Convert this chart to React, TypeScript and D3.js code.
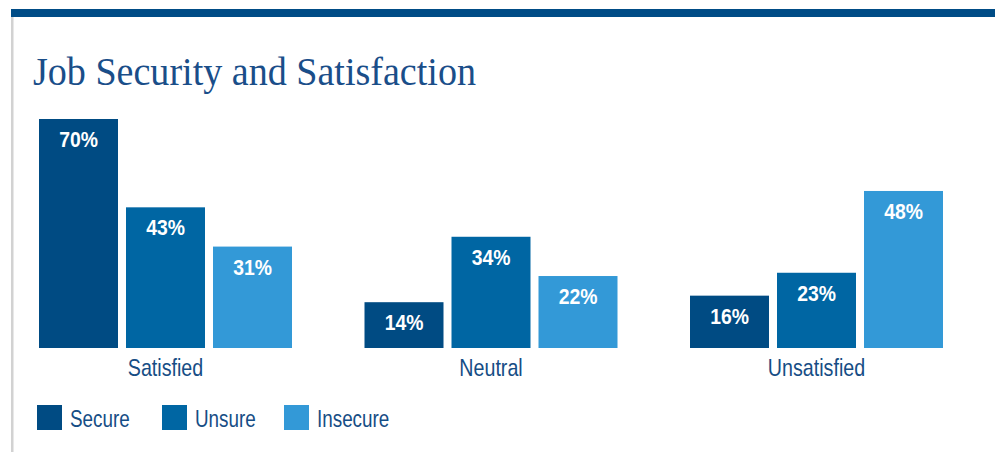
import React from "react";
import * as d3 from "d3";

const categories = ["Satisfied", "Neutral", "Unsatisfied"];
const seriesNames = ["Secure", "Unsure", "Insecure"];
const secureValues = [70, 14, 16];
const unsureValues = [43, 34, 23];
const insecureValues = [31, 22, 48];
const seriesColors = ["#004b83", "#0066a3", "#3399d7"];

const W = 995;
const H = 452;
const baseY = 348;
const labelFont = "'Liberation Sans', Arial, sans-serif";

function NarrowText(props: { x: number; y: number; anchor?: string; fill: string; size: number; bold?: boolean; sx?: number; children: React.ReactNode }) {
  return (
    <g transform={`translate(${props.x},${props.y}) scale(${props.sx || 0.82},1)`}>
      <text x={0} y={0} textAnchor={props.anchor || "start"} fill={props.fill} fontFamily={labelFont} fontSize={props.size} fontWeight={props.bold ? "bold" : "normal"}>
        {props.children}
      </text>
    </g>
  );
}

export default function App() {
  const values = [secureValues, unsureValues, insecureValues];
  const x0 = d3.scaleBand<string>().domain(categories).range([39, 943]).paddingInner(72.5 / 325.5).paddingOuter(0);
  const x1 = d3.scaleBand<string>().domain(seriesNames).range([0, x0.bandwidth()]).paddingInner(8 / 87).paddingOuter(0);
  const y = d3.scaleLinear().domain([0, 70]).range([baseY, 119]);
  const textColor = "#164d85";
  const legendX = [37, 162, 284];

  return (
    <svg width={W} height={H} style={{ position: "absolute", left: 0, top: 0, background: "#fff" }}>
      <rect x={11} y={9} width={W - 11} height={8} fill="#004c86" />
      <rect x={11} y={17} width={2.5} height={H - 17} fill="#d2d2d2" />
      <text x={33} y={85} fontFamily="'Liberation Serif', 'DejaVu Serif', serif" fontSize={39} fill="#1a4e89" textLength={443} lengthAdjust="spacingAndGlyphs">
        Job Security and Satisfaction
      </text>
      {categories.map((c, ci) => (
        <g key={c} transform={`translate(${x0(c)},0)`}>
          {seriesNames.map((s, si) => {
            const v = values[si][ci];
            const bx = x1(s)!;
            return (
              <g key={s}>
                <rect x={bx} y={y(v)} width={x1.bandwidth()} height={baseY - y(v)} fill={seriesColors[si]} />
                <NarrowText x={bx + x1.bandwidth() / 2} y={y(v) + 28} anchor="middle" fill="#fff" size={22} sx={0.88} bold>
                  {v}%
                </NarrowText>
              </g>
            );
          })}
          <NarrowText x={x0.bandwidth() / 2} y={376} anchor="middle" fill={textColor} size={24}>
            {c}
          </NarrowText>
        </g>
      ))}
      {seriesNames.map((s, si) => (
        <g key={s} transform={`translate(${legendX[si]},405)`}>
          <rect x={0} y={0} width={25} height={25} fill={seriesColors[si]} />
          <NarrowText x={33} y={22} fill={textColor} size={23}>
            {s}
          </NarrowText>
        </g>
      ))}
    </svg>
  );
}
